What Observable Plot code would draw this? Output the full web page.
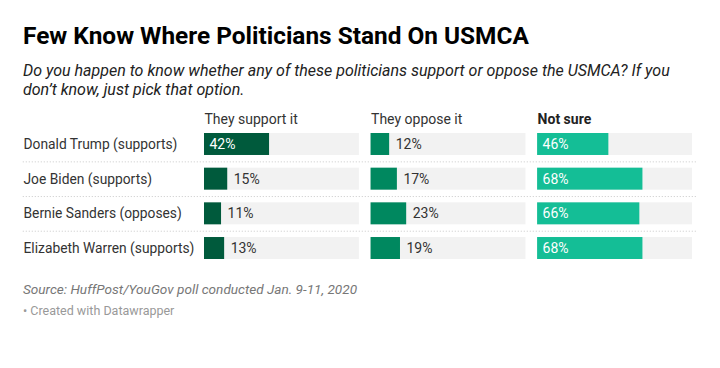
<!DOCTYPE html>
<html>
<head>
<meta charset="utf-8">
<script src="https://cdn.jsdelivr.net/npm/d3@7"></script>
<script src="https://cdn.jsdelivr.net/npm/@observablehq/plot@0.6"></script>
<style>
  html, body { margin: 0; padding: 0; background: #fff; }
  body { width: 720px; height: 368px; overflow: hidden; font-family: Roboto, sans-serif; color: #333; }
  .title { padding: 23px 23px 0 23px; font-size: 24.4px; line-height: 26px; font-weight: 700; color: #000; }
  .subtitle { margin-top: 11.5px; padding: 0 23px; font-size: 16px; line-height: 19.5px; font-style: italic; color: #222; }
  #chart { height: 170px; }
  .source { margin-top: 11.5px; padding: 0 23px; font-size: 13.6px; line-height: 17px; font-style: italic; color: #777; }
  .credit { margin-top: 4.5px; padding: 0 23px; font-size: 12.5px; line-height: 15px; color: #999; }
</style>
</head>
<body>
<div class="title">Few Know Where Politicians Stand On USMCA</div>
<div class="subtitle">Do you happen to know whether any of these politicians support or oppose the USMCA? If you don’t know, just pick that option.</div>
<div id="chart"></div>
<div class="source">Source: HuffPost/YouGov poll conducted Jan. 9-11, 2020</div>
<div class="credit">• Created with Datawrapper</div>
<script>
const columns = ["They support it", "They oppose it", "Not sure"];
const politicians = [
  "Donald Trump (supports)",
  "Joe Biden (supports)",
  "Bernie Sanders (opposes)",
  "Elizabeth Warren (supports)"
];
const supportValues = [42, 15, 11, 13];
const opposeValues = [12, 17, 23, 19];
const notSureValues = [46, 68, 66, 68];
const colors = ["#005a3c", "#00885f", "#14be96"];

const seriesValues = [supportValues, opposeValues, notSureValues];
const rows = [];
columns.forEach((col, ci) => {
  politicians.forEach((name, pi) => {
    rows.push({column: col, name, value: seriesValues[ci][pi]});
  });
});

const firstCol = () => columns[0];

const plot = Plot.plot({
  width: 720,
  height: 170,
  marginLeft: 204,
  marginRight: 28,
  marginTop: 33,
  marginBottom: 11,
  style: {fontFamily: "Roboto, sans-serif", fontSize: "14px", color: "#333", background: "transparent"},
  fx: {domain: columns, paddingInner: 0.07, paddingOuter: 0, round: false, axis: null, label: null},
  x: {domain: [0, 100], axis: null},
  y: {domain: politicians, paddingInner: 0.366, paddingOuter: 0, round: false, axis: null},
  color: {domain: columns, range: colors},
  marks: [
    Plot.ruleY(politicians.slice(1), {fx: firstCol, y: d => d, dy: -17.3, x1: -117, x2: 318, stroke: "#c8c8c8", strokeDasharray: "1,2"}),
    Plot.barX(rows, {fx: "column", y: "name", x1: 0, x2: 100, fill: "#f2f2f2"}),
    Plot.barX(rows, {fx: "column", y: "name", x: "value", fill: "column"}),
    Plot.text(rows.filter(d => d.value >= 30), {fx: "column", y: "name", x: 0, text: d => d.value + "%", textAnchor: "start", dx: 5, fill: "white", fontSize: 14}),
    Plot.text(rows.filter(d => d.value < 30), {fx: "column", y: "name", x: "value", text: d => d.value + "%", textAnchor: "start", dx: 6, fill: "#333", fontSize: 14}),
    Plot.text(politicians, {fx: firstCol, y: d => d, text: d => d, frameAnchor: "left", textAnchor: "start", dx: -181, fill: "#333", fontSize: 13.8}),
    Plot.text(columns.filter(c => c !== "Not sure"), {fx: d => d, text: d => d, frameAnchor: "top-left", textAnchor: "start", lineAnchor: "middle", dy: -14, fill: "#333", fontSize: 14}),
    Plot.text(columns.filter(c => c === "Not sure"), {fx: d => d, text: d => d, frameAnchor: "top-left", textAnchor: "start", lineAnchor: "middle", dy: -14, fill: "#222", fontSize: 14, fontWeight: "bold"})
  ]
});
document.getElementById("chart").appendChild(plot);
</script>
</body>
</html>
